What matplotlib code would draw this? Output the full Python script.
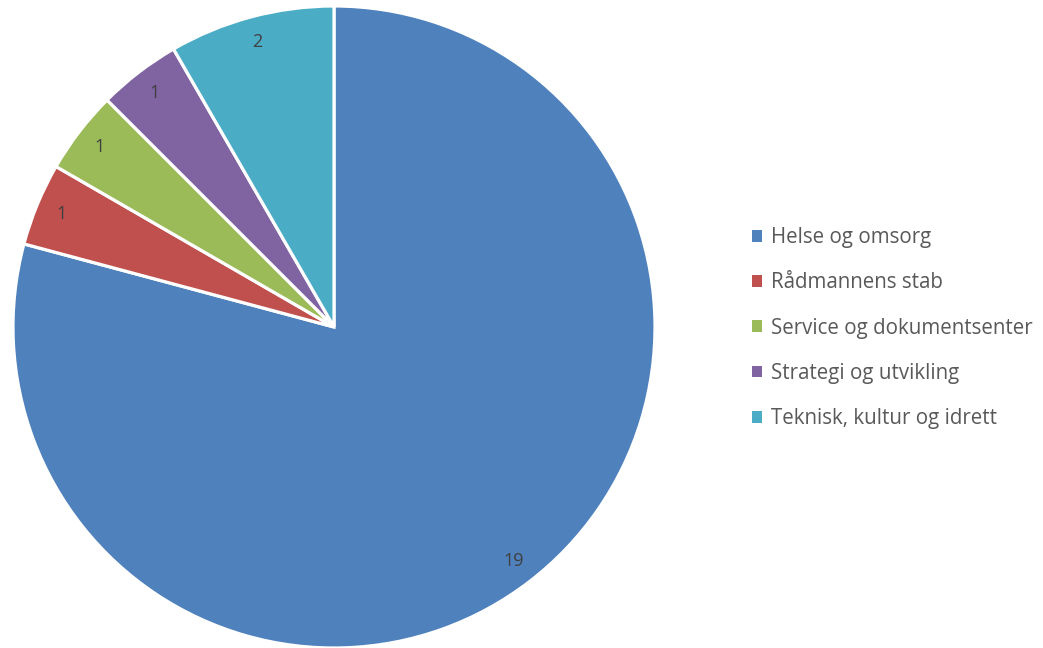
import matplotlib
matplotlib.use("Agg")
import matplotlib.pyplot as plt

categories = ["Helse og omsorg", "Rådmannens stab", "Service og dokumentsenter",
              "Strategi og utvikling", "Teknisk, kultur og idrett"]
values = [19, 1, 1, 1, 2]
colors = ["#4F81BD", "#C0504D", "#9BBB59", "#8064A2", "#4BACC6"]

plt.rcParams['font.family'] = ['Open Sans', 'DejaVu Sans']

W, H = 1043, 648
fig = plt.figure(figsize=(W / 100, H / 100), dpi=100)
cx, cy, r = 334, 327, 321
ax = fig.add_axes([(cx - r) / W, (H - cy - r) / H, 2 * r / W, 2 * r / H])

wedges, texts = ax.pie(values, colors=colors, startangle=90, counterclock=False,
                       labels=[str(v) for v in values], labeldistance=0.92,
                       wedgeprops=dict(edgecolor="white", linewidth=2.3),
                       textprops=dict(color="#404040", fontsize=13))
for t in texts:
    t.set_ha("center")
    t.set_va("center")
ax.set_aspect("equal")
ax.set_xlim(-1, 1)
ax.set_ylim(-1, 1)

leg = fig.legend(wedges, categories, loc="center left",
                 bbox_to_anchor=(733 / W, 1 - 328 / H), frameon=False,
                 fontsize=14.8, handlelength=0.5, handleheight=0.5,
                 handletextpad=0.45, labelspacing=1.18, labelcolor="#595959")
for h in leg.legend_handles:
    h.set_edgecolor("none")

fig.savefig("out.png", dpi=100)
